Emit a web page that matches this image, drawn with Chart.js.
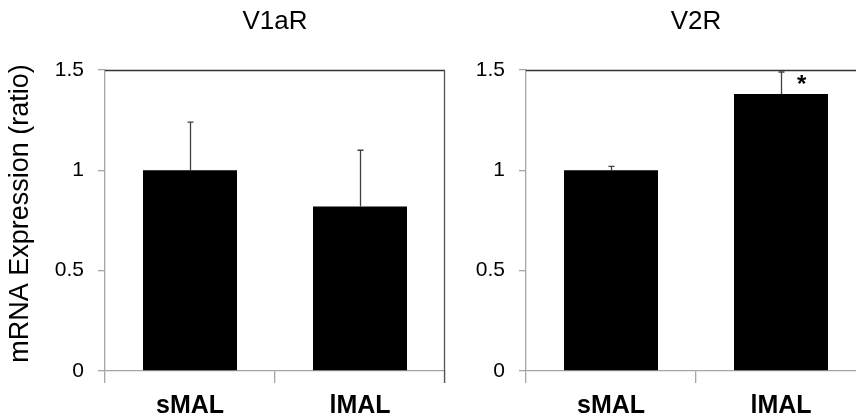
<!DOCTYPE html>
<html>
<head>
<meta charset="utf-8">
<script src="https://cdn.jsdelivr.net/npm/chart.js@4/dist/chart.umd.min.js"></script>
<style>
  html, body { margin: 0; padding: 0; background: #fff; overflow: hidden; width: 856px; height: 417px; }
  .wrap { position: absolute; top: 0; width: 450px; height: 417px; }
  #w1 { left: 0; }
  #w2 { left: 421px; }
</style>
</head>
<body>
<div class="wrap" id="w1"><canvas id="c1" width="450" height="417"></canvas></div>
<div class="wrap" id="w2"><canvas id="c2" width="450" height="417"></canvas></div>
<script>
// ---- data ----
const categories = ["sMAL", "lMAL"];
const panelTitles = ["V1aR", "V2R"];
const v1aRValues = [1.00, 0.82];
const v1aRErrors = [0.24, 0.28];
const v2RValues = [1.00, 1.38];
const v2RErrors = [0.02, 0.11];
const v1aRMarks = ["", ""];
const v2RMarks = ["", "*"];
const yTickValues = [0, 0.5, 1, 1.5];
const yTickLabels = ["0", "0.5", "1", "1.5"];
const yAxisTitle = "mRNA Expression (ratio)";

const FONT = "'Liberation Sans', Arial, Helvetica, sans-serif";
const AXIS_GRAY = "#a6a6a6";

const errorBarPlugin = {
  id: 'errorBars',
  afterDatasetsDraw(chart) {
    const ctx = chart.ctx;
    const meta = chart.getDatasetMeta(0);
    const ds = chart.data.datasets[0];
    const ys = chart.scales.y;
    ctx.save();
    ctx.strokeStyle = "#404040";
    ctx.lineWidth = 1.3;
    meta.data.forEach((bar, i) => {
      const v = ds.data[i];
      const e = ds.errors[i];
      const x = Math.round(bar.x) + 0.5;
      const y0 = ys.getPixelForValue(v);
      const y1 = ys.getPixelForValue(v + e);
      ctx.beginPath();
      ctx.moveTo(x, y0);
      ctx.lineTo(x, y1);
      ctx.moveTo(x - 3, y1);
      ctx.lineTo(x + 3, y1);
      ctx.stroke();
      const m = ds.marks[i];
      if (m) {
        ctx.fillStyle = "#000";
        ctx.font = "bold 24px " + FONT;
        ctx.textAlign = "center";
        ctx.textBaseline = "alphabetic";
        ctx.fillText(m, bar.x + bar.width * 0.22, y1 + 20);
      }
    });
    ctx.restore();
  },
  afterDraw(chart) {
    const ctx = chart.ctx;
    const a = chart.chartArea;
    const opts = chart.options.plugins.errorBars || {};
    ctx.save();
    ctx.strokeStyle = "#333";
    ctx.lineWidth = 1.3;
    ctx.beginPath();
    ctx.moveTo(a.left, Math.round(a.top) + 0.5);
    ctx.lineTo(a.right, Math.round(a.top) + 0.5);
    ctx.stroke();
    if (opts.rightBorder) {
      ctx.strokeStyle = "#555";
      ctx.beginPath();
      ctx.moveTo(Math.round(a.right) - 0.5, a.top);
      ctx.lineTo(Math.round(a.right) - 0.5, a.bottom + 12);
      ctx.stroke();
    }
    if (opts.yTitle) {
      ctx.fillStyle = "#000";
      ctx.font = "27px " + FONT;
      ctx.textAlign = "center";
      ctx.textBaseline = "middle";
      ctx.translate(21, (a.top + a.bottom) / 2 - 7);
      ctx.rotate(-Math.PI / 2);
      ctx.fillText(opts.yTitle, 0, 0);
    }
    ctx.restore();
  }
};

function makeChart(id, title, values, errors, marks, rightBorder, yTitle) {
  return new Chart(document.getElementById(id), {
    type: 'bar',
    data: {
      labels: categories,
      datasets: [{
        data: values,
        errors: errors,
        marks: marks,
        backgroundColor: "#000",
        borderWidth: 0,
        barPercentage: 0.553,
        categoryPercentage: 1.0
      }]
    },
    options: {
      responsive: false,
      animation: false,
      events: [],
      layout: { padding: { left: 0, right: 5, top: 0, bottom: 0 } },
      plugins: {
        legend: { display: false },
        tooltip: { enabled: false },
        title: {
          display: true,
          text: title,
          fullSize: false,
          color: "#000",
          font: { family: FONT, size: 26, weight: 'normal' },
          padding: { top: 6, bottom: 32.8 }
        },
        errorBars: { rightBorder: rightBorder, yTitle: yTitle }
      },
      scales: {
        x: {
          type: 'category',
          grid: { offset: true, drawOnChartArea: false, drawTicks: true, tickLength: 12, color: AXIS_GRAY, lineWidth: 1.3 },
          border: { display: true, color: AXIS_GRAY, width: 1.3 },
          ticks: { color: "#000", font: { family: FONT, size: 25, weight: 'bold' }, padding: 8, maxRotation: 0 },
          afterFit(s) { s.height = 46; }
        },
        y: {
          min: 0, max: 1.5,
          afterBuildTicks(s) { s.ticks = yTickValues.map(v => ({ value: v })); },
          grid: { drawOnChartArea: false, drawTicks: true, tickLength: 7, color: AXIS_GRAY, lineWidth: 1.3 },
          border: { display: true, color: AXIS_GRAY, width: 1.3 },
          ticks: {
            color: "#000",
            font: { family: FONT, size: 21 },
            padding: 14,
            callback(v) { const i = yTickValues.indexOf(v); return i >= 0 ? yTickLabels[i] : ''; }
          },
          afterFit(s) { s.width = 105; }
        }
      }
    },
    plugins: [errorBarPlugin]
  });
}

makeChart('c1', panelTitles[0], v1aRValues, v1aRErrors, v1aRMarks, true, yAxisTitle);
makeChart('c2', panelTitles[1], v2RValues, v2RErrors, v2RMarks, false, "");
</script>
</body>
</html>
